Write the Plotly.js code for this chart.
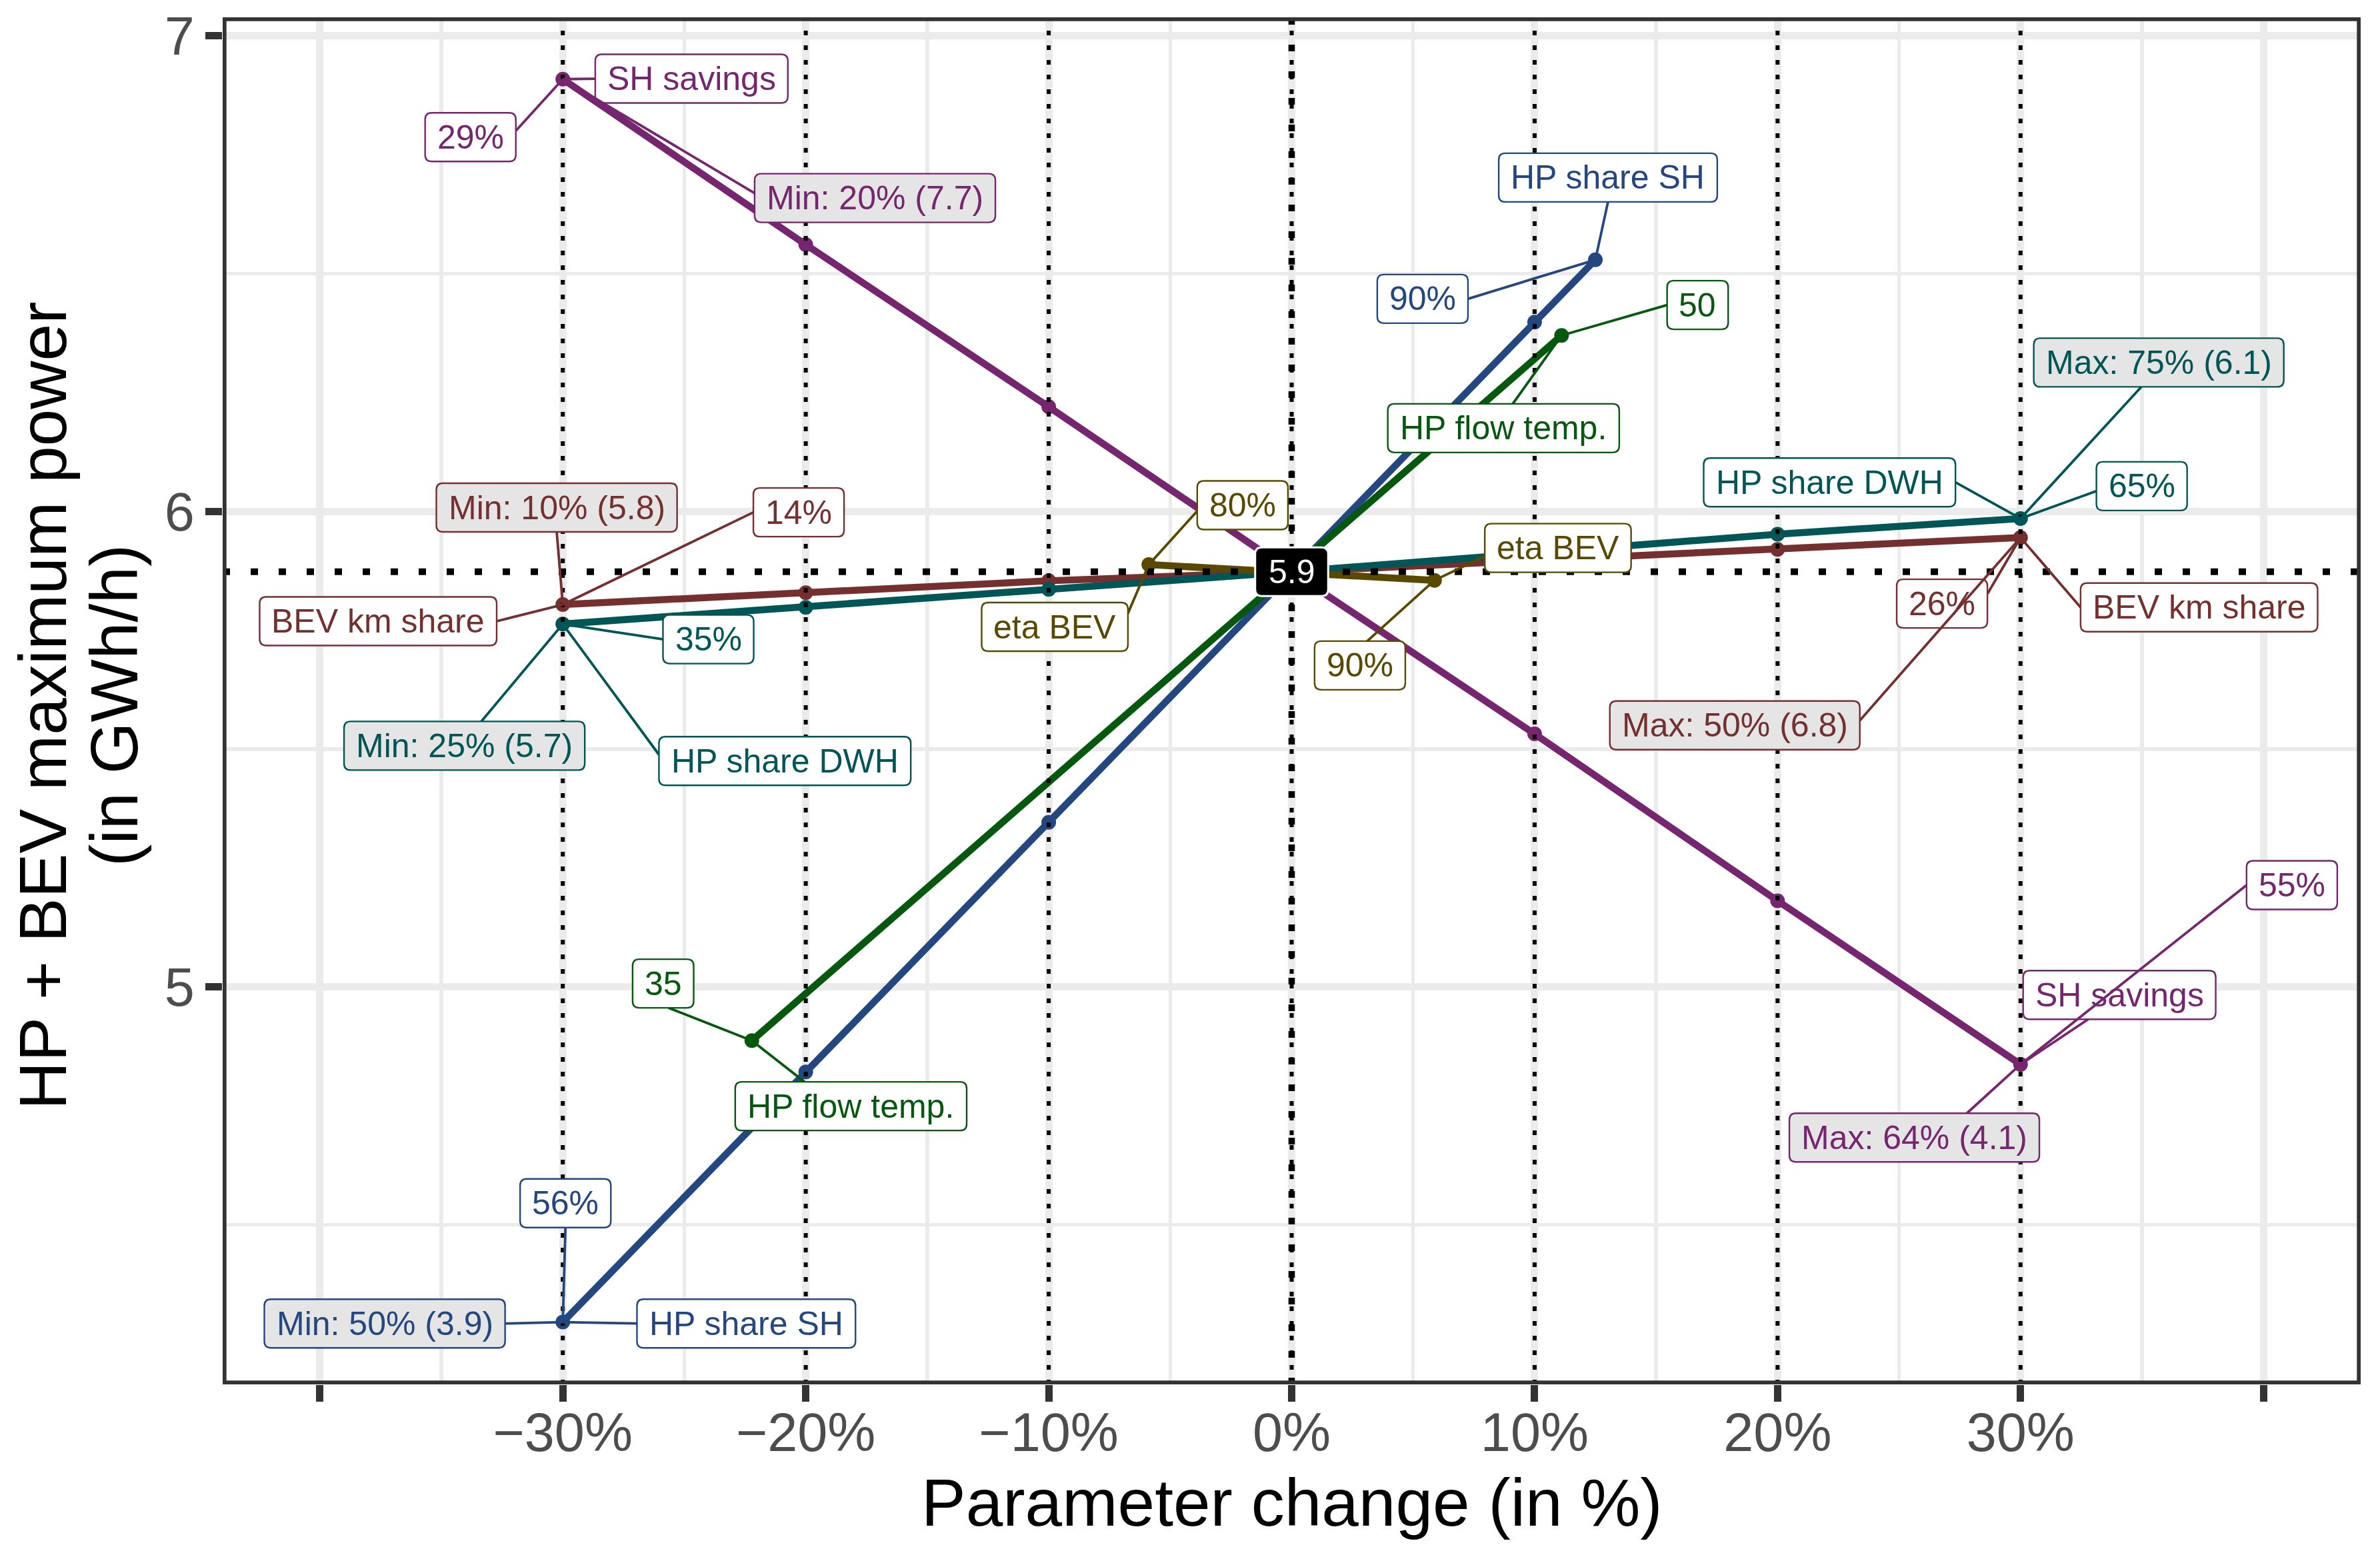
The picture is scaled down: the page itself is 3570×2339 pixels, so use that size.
<!DOCTYPE html>
<html><head><meta charset="utf-8">
<script src="https://cdn.plot.ly/plotly-3.0.1.min.js"></script>
<style>html,body{margin:0;padding:0;background:#fff}#chart{width:3570px;height:2339px}</style>
</head><body><div id="chart"></div>
<script>
// ---------------- DATA ----------------
const seriesNames = ['SH savings', 'HP share SH', 'HP flow temp.', 'HP share DWH', 'BEV km share', 'eta BEV'];
// parameter change (in %) and resulting HP + BEV maximum power (GWh/h)
const xSHsav = [-30, -20, -10, 0, 10, 20, 30];
const ySHsav = [6.909, 6.561, 6.220, 5.873, 5.532, 5.181, 4.837];
const xHPSH  = [-30, -20, -10, 0, 10, 12.5];
const yHPSH  = [4.295, 4.821, 5.346, 5.873, 6.398, 6.529];
const xFlow  = [-22.22, 0, 11.11];
const yFlow  = [4.887, 5.873, 6.370];
const xDWH   = [-30, -20, -10, 0, 10, 20, 30];
const yDWH   = [5.763, 5.798, 5.836, 5.873, 5.912, 5.952, 5.985];
const xBEVkm = [-30, -20, -10, 0, 10, 20, 30];
const yBEVkm = [5.804, 5.829, 5.854, 5.873, 5.897, 5.920, 5.945];
const xEta   = [-5.88, 0, 5.88];
const yEta   = [5.888, 5.873, 5.855];
const baseValue = 5.873;
const baseLabel = '5.9';
// parameter values at the lower / upper end of each series
const lowValueLabels  = ['29%', '56%', '35', '35%', '14%', '80%'];
const highValueLabels = ['55%', '90%', '50', '65%', '26%', '90%'];
const minLabels = ['Min: 20% (7.7)', 'Min: 50% (3.9)', null, 'Min: 25% (5.7)', 'Min: 10% (5.8)', null];
const maxLabels = ['Max: 64% (4.1)', null, null, 'Max: 75% (6.1)', 'Max: 50% (6.8)', null];
// axis ticks
const xTickVals = [-40, -30, -20, -10, 0, 10, 20, 30, 40];
const xTickText = ['', '\u221230%', '\u221220%', '\u221210%', '0%', '10%', '20%', '30%', ''];
const yTickVals = [5, 6, 7];
const yTickText = ['5', '6', '7'];
const refLinesX = [-30, -20, -10, 0, 10, 20, 30];

// ---------------- STYLE / LAYOUT ----------------
const FONT = 'Liberation Sans, Arial, Helvetica, sans-serif';
const colors = ['#75266E', '#23477E', '#05580E', '#005557', '#74302E', '#594900'];
const xs = [xSHsav, xHPSH, xFlow, xDWH, xBEVkm, xEta];
const ys = [ySHsav, yHPSH, yFlow, yDWH, yBEVkm, yEta];
const drawOrder = [0, 1, 2, 4, 3, 5];

const W = 3570, Hh = 2339;
const M = {l: 334, r: 29, t: 26, b: 262};
const xr = [-44, 44], yr = [4.164, 7.039];
const PW = W - M.l - M.r, PH = Hh - M.t - M.b;
const sx = PW / (xr[1] - xr[0]), sy = PH / (yr[1] - yr[0]);
const toU = x => (x - xr[0]) * sx;
const toV = y => (yr[1] - y) * sy;
const fromU = u => xr[0] + u / sx;
const fromV = v => yr[1] - v / sy;

// label placement: [series, end ('lo'|'hi'), kind, cx, cy, anchorFx, anchorFy]
const labelPlacement = [
  [0, 'lo', 'name', -24.70, 6.910, 0, 0.5],
  [0, 'hi', 'name', 34.07, 4.983, 0.338, 1],
  [1, 'lo', 'name', -22.45, 4.292, 0, 0.5],
  [1, 'hi', 'name', 13.02, 6.702, 0.5, 1],
  [2, 'lo', 'name', -18.14, 4.749, 0.30, 0],
  [2, 'hi', 'name', 8.72, 6.175, 0.54, 0],
  [3, 'lo', 'name', -20.86, 5.475, 0, 0.37],
  [3, 'hi', 'name', 22.14, 6.061, 1, 0.5],
  [4, 'lo', 'name', -37.60, 5.769, 1, 0.5],
  [4, 'hi', 'name', 37.35, 5.798, 0, 0.5],
  [5, 'lo', 'name', -9.75, 5.757, 1, 0.22],
  [5, 'hi', 'name', 10.96, 5.923, 0, 0.67],
  [0, 'lo', 'val', -33.80, 6.787, 1, 0.37],
  [0, 'hi', 'val', 41.17, 5.214, 0, 0.5],
  [1, 'lo', 'val', -29.89, 4.545, 0.5, 1],
  [1, 'hi', 'val', 5.39, 6.447, 1, 0.5],
  [2, 'lo', 'val', -25.87, 5.007, 0.59, 1],
  [2, 'hi', 'val', 16.71, 6.434, 0, 0.5],
  [3, 'lo', 'val', -24.01, 5.731, 0, 0.5],
  [3, 'hi', 'val', 34.99, 6.053, 0, 0.6],
  [4, 'lo', 'val', -20.29, 5.998, 0, 0.5],
  [4, 'hi', 'val', 26.77, 5.806, 1, 0.3],
  [5, 'lo', 'val', -2.02, 6.013, 0, 0.62],
  [5, 'hi', 'val', 2.81, 5.676, 0.58, 0],
  [0, 'lo', 'min', -17.15, 6.659, 0, 0.4],
  [0, 'hi', 'max', 25.63, 4.683, 0.71, 0],
  [1, 'lo', 'min', -37.33, 4.292, 1, 0.5],
  [3, 'lo', 'min', -34.05, 5.507, 0.57, 0],
  [3, 'hi', 'max', 35.69, 6.313, 0.43, 1],
  [4, 'lo', 'min', -30.25, 6.008, 0.5, 1],
  [4, 'hi', 'max', 18.24, 5.550, 1, 0.4]
];

const LFS = 50, PADX = 18, BOXH = 73, RAD = 10;
const ctx = document.createElement('canvas').getContext('2d');
ctx.font = LFS + 'px "Liberation Sans"';

function roundRectPath(u0, v0, u1, v1, r) {
  const P = (u, v) => fromU(u) + ',' + fromV(v);
  return 'M' + P(u0 + r, v0) + ' L' + P(u1 - r, v0) + ' Q' + P(u1, v0) + ' ' + P(u1, v0 + r) +
    ' L' + P(u1, v1 - r) + ' Q' + P(u1, v1) + ' ' + P(u1 - r, v1) +
    ' L' + P(u0 + r, v1) + ' Q' + P(u0, v1) + ' ' + P(u0, v1 - r) +
    ' L' + P(u0, v0 + r) + ' Q' + P(u0, v0) + ' ' + P(u0 + r, v0) + ' Z';
}

// ---------------- TRACES ----------------
const traces = drawOrder.map(i => ({
  type: 'scatter', mode: 'lines+markers', name: seriesNames[i],
  x: xs[i], y: ys[i],
  line: {color: colors[i], width: 10.5},
  marker: {color: colors[i], size: 22},
  showlegend: false, hoverinfo: 'skip'
}));

// ---------------- SHAPES ----------------
const shapes = [];
refLinesX.forEach(v => shapes.push({type: 'line', xref: 'x', yref: 'paper', x0: v, x1: v, y0: 0, y1: 1,
  layer: 'above', line: {color: '#000000', width: 6, dash: '7px,15px'}}));
shapes.push({type: 'line', xref: 'x', yref: 'paper', x0: 0, x1: 0, y0: 0, y1: 1,
  layer: 'above', line: {color: '#000000', width: 9.5, dash: '10px,30px'}});
shapes.push({type: 'line', xref: 'paper', yref: 'y', x0: 0, x1: 1, y0: baseValue, y1: baseValue,
  layer: 'above', line: {color: '#000000', width: 10, dash: '11px,31px'}});
const inX = 2.85 / PW, inY = 2.85 / PH;
shapes.push({type: 'rect', xref: 'paper', yref: 'paper', x0: inX, x1: 1 - inX, y0: inY, y1: 1 - inY,
  layer: 'above', line: {color: '#333333', width: 5.7}, fillcolor: 'rgba(0,0,0,0)'});

const annotations = [];
labelPlacement.forEach(lp => {
  const [s, end, kind, cx, cy, fx, fy] = lp;
  const idx = end === 'lo' ? 0 : xs[s].length - 1;
  let text;
  if (kind === 'name') text = seriesNames[s];
  else if (kind === 'val') text = end === 'lo' ? lowValueLabels[s] : highValueLabels[s];
  else if (kind === 'min') text = minLabels[s];
  else text = maxLabels[s];
  const tw = ctx.measureText(text).width;
  const bw = tw + 2 * PADX;
  const cu = toU(cx), cv = toV(cy);
  const u0 = cu - bw / 2, u1 = cu + bw / 2, v0 = cv - BOXH / 2, v1 = cv + BOXH / 2;
  const pu = toU(xs[s][idx]), pv = toV(ys[s][idx]);
  const eu = u0 + fx * bw, ev = v0 + fy * BOXH;
  shapes.push({type: 'line', xref: 'x', yref: 'y', x0: fromU(pu), y0: fromV(pv), x1: fromU(eu), y1: fromV(ev),
    layer: 'above', line: {color: colors[s], width: 3.8}});
  shapes.push({type: 'path', xref: 'x', yref: 'y', path: roundRectPath(u0, v0, u1, v1, RAD), layer: 'above',
    fillcolor: (kind === 'min' || kind === 'max') ? '#E5E5E5' : '#FFFFFF',
    line: {color: colors[s], width: 2.4}});
  annotations.push({xref: 'x', yref: 'y', x: cx, y: cy, text: text, showarrow: false,
    xanchor: 'center', yanchor: 'middle', font: {family: FONT, size: LFS, color: colors[s]}});
});
// base value label
{
  const tw = ctx.measureText(baseLabel).width;
  const bw = tw + 2 * PADX + 4;
  const cu = toU(0), cv = toV(baseValue);
  shapes.push({type: 'path', xref: 'x', yref: 'y', layer: 'above',
    path: roundRectPath(cu - bw / 2, cv - BOXH / 2, cu + bw / 2, cv + BOXH / 2, RAD),
    fillcolor: '#000000', line: {color: '#FFFFFF', width: 3}});
  annotations.push({xref: 'x', yref: 'y', x: 0, y: baseValue, text: baseLabel, showarrow: false,
    xanchor: 'center', yanchor: 'middle', font: {family: FONT, size: LFS, color: '#FFFFFF'}});
}
// axis titles
annotations.push({xref: 'paper', yref: 'paper', x: 0.5, y: -(2254 - (M.t + PH)) / PH, showarrow: false,
  xanchor: 'center', yanchor: 'middle', text: 'Parameter change (in %)', font: {family: FONT, size: 100, color: '#000000'}});
annotations.push({xref: 'paper', yref: 'paper', x: (64 - M.l) / PW, y: 0.4963, showarrow: false, textangle: -90,
  xanchor: 'center', yanchor: 'middle', text: 'HP + BEV maximum power', font: {family: FONT, size: 100, color: '#000000'}});
annotations.push({xref: 'paper', yref: 'paper', x: (171 - M.l) / PW, y: 0.4963, showarrow: false, textangle: -90,
  xanchor: 'center', yanchor: 'middle', text: '(in GWh/h)', font: {family: FONT, size: 100, color: '#000000'}});

const layout = {
  width: W, height: Hh, margin: M,
  paper_bgcolor: '#FFFFFF', plot_bgcolor: '#FFFFFF',
  showlegend: false,
  font: {family: FONT},
  xaxis: {
    range: xr, tickmode: 'array', tickvals: xTickVals, ticktext: xTickText,
    ticks: 'outside', ticklen: 25, tickwidth: 11, tickcolor: '#333333', ticklabelstandoff: -23,
    tickfont: {family: FONT, size: 81, color: '#4D4D4D'},
    showgrid: true, gridcolor: '#EBEBEB', gridwidth: 11,
    minor: {tickmode: 'array', tickvals: [-35, -25, -15, -5, 5, 15, 25, 35], showgrid: true, gridcolor: '#EBEBEB', gridwidth: 5.5, ticks: ''},
    zeroline: false, showline: false, fixedrange: true
  },
  yaxis: {
    range: yr, tickmode: 'array', tickvals: yTickVals, ticktext: yTickText,
    ticks: 'outside', ticklen: 25, tickwidth: 11, tickcolor: '#333333',
    tickfont: {family: FONT, size: 81, color: '#4D4D4D'},
    showgrid: true, gridcolor: '#EBEBEB', gridwidth: 11,
    minor: {tickmode: 'array', tickvals: [4.5, 5.5, 6.5], showgrid: true, gridcolor: '#EBEBEB', gridwidth: 5.5, ticks: ''},
    zeroline: false, showline: false, fixedrange: true
  },
  shapes: shapes,
  annotations: annotations
};

Plotly.newPlot('chart', traces, layout, {displayModeBar: false, staticPlot: true});
</script>
</body></html>
